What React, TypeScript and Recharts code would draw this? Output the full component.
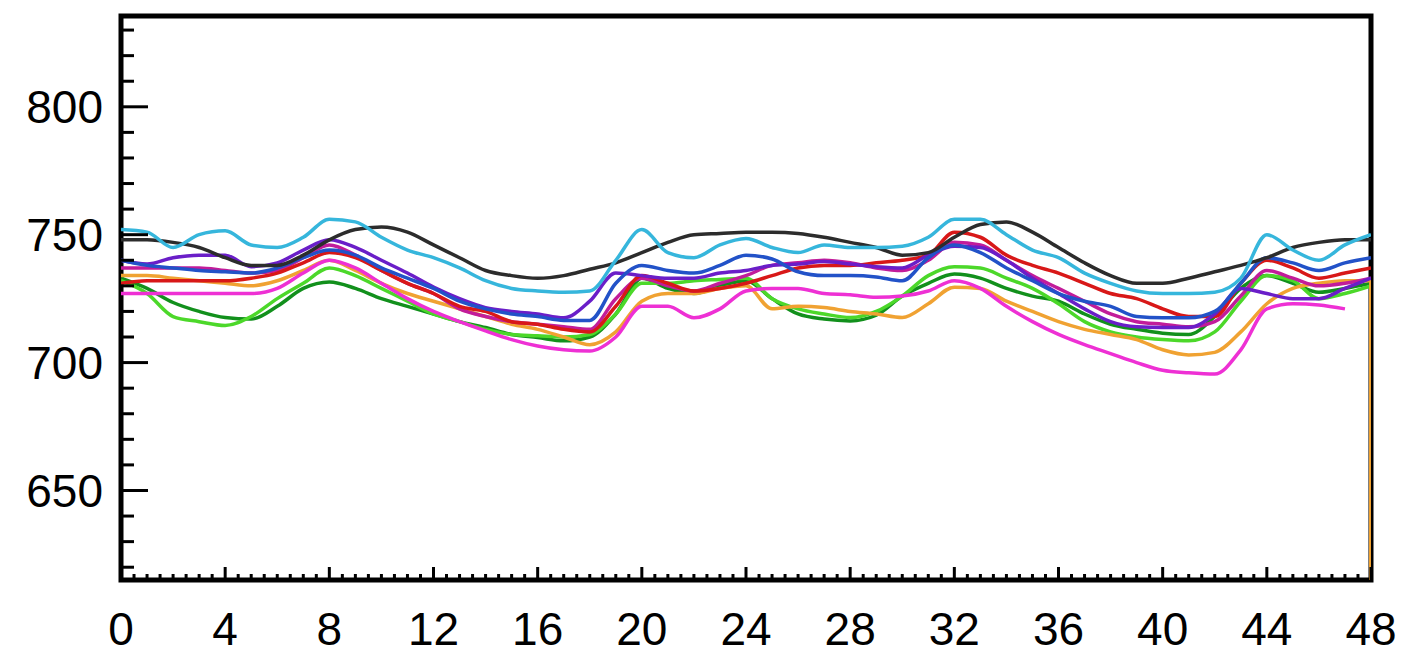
import React from "react";
import { LineChart, Line, XAxis, YAxis, ReferenceArea } from "recharts";

// hours along the x axis
const hours = [
  0, 1, 2, 3, 4, 5, 6, 7, 8, 9, 10, 11, 12, 13, 14, 15, 16, 17, 18, 19, 20, 21, 22, 23, 24,
  25, 26, 27, 28, 29, 30, 31, 32, 33, 34, 35, 36, 37, 38, 39, 40, 41, 42, 43, 44, 45, 46, 47, 48,
];

const cyan = [752, 751, 745, 750, 751.5, 746, 745, 749, 756, 755, 749, 744, 741, 737, 732, 729, 728, 727.5, 728, 740, 752, 743, 741, 746, 748.5, 745, 743, 746, 745, 745, 745.5, 749, 756, 756, 750, 744, 741, 735, 731, 728, 727, 727, 727.5, 733, 750, 744, 740, 746, 750];
const black = [748, 748, 747, 745, 741, 738, 738, 742, 748, 752, 753, 751, 746, 741, 736, 734, 733, 734, 736.5, 739, 743, 747, 750, 750.5, 751, 751, 750.5, 749, 747, 745, 742, 743, 749, 754, 755, 751, 745, 739, 734, 731, 731, 733, 735.5, 738, 741, 745, 747, 748, 748];
const blue = [740, 738, 737, 736, 735.5, 735, 737, 741, 744, 742, 737, 733, 729, 724, 721, 719, 718, 716.5, 716.5, 731, 738, 736, 735, 738, 742, 740.5, 735.5, 734, 734, 733.5, 732, 741, 746, 743, 737, 732, 727, 724, 722, 718, 717.5, 717.5, 720, 731, 741, 739, 736, 739, 741];
const violet = [740, 738.5, 741, 742, 742, 737.5, 739, 744, 748, 745, 740, 735, 729.5, 725, 721.5, 720, 719, 717.5, 724, 735, 734, 733, 733, 735, 736, 738, 738.5, 739.5, 738.5, 737.5, 737, 742, 745.5, 745, 740, 733, 727, 721, 716, 714, 713.7, 713.7, 719, 729, 727, 725, 725, 729, 733];
const red = [731, 732, 732, 732, 732, 733, 735, 739, 743, 741, 736, 731, 727, 722, 720, 716, 715, 713, 712, 722, 734, 731, 728, 729, 731, 734, 737, 738, 738, 739, 740, 742, 751, 749, 742, 738, 735, 731, 727, 725, 721, 718, 718, 731, 740, 737, 733, 735, 737];
const magenta = [737, 737, 737, 737, 736, 735, 736, 741, 746, 742, 736, 731, 727, 721, 718, 716, 715, 714, 713, 725, 733, 730, 728, 731, 734, 738, 739, 740, 739, 737, 736, 740, 747, 746, 740, 734, 729, 724, 719, 716, 715, 714, 716, 726, 736, 733, 730, 731, 733];
const orange = [734, 734, 733, 732, 731, 730, 732, 736, 740, 736, 731, 727, 724, 721, 718, 715, 713, 710, 707, 712, 724, 727, 727, 729, 730, 721, 722, 721.5, 720, 719, 717.6, 723, 729.5, 729, 724, 720, 716, 713, 711, 709, 705, 703, 704, 712, 723, 729, 731, 732, 732];
const orangeDrop = [732, 0];
const lightGreen = [732, 727, 718, 716, 714.5, 718, 725, 731, 737, 734, 729, 724, 719, 716, 713, 711, 710.5, 710, 711, 719, 731, 731, 732, 732.5, 733, 725, 721, 719, 717.6, 720, 726, 734, 737.5, 737, 733, 729, 723, 716, 712, 710, 709, 708.5, 712, 724, 734, 732, 725, 727, 730];
const darkGreen = [733, 729, 723.5, 720, 717.6, 717, 722, 729, 731.5, 729, 725, 722, 719, 716, 713.7, 711, 709.8, 708.5, 710, 719, 733, 729, 727, 730, 732, 725, 719, 717, 716.3, 718.5, 726, 731, 734.6, 733, 729, 726, 724, 719, 715, 713, 711.5, 711, 718, 729, 734, 731, 727.5, 729, 731];
const pink = [727, 727, 727, 727, 727, 727, 729, 735, 740, 737, 731, 725, 720, 716, 712.4, 709, 706.5, 705, 704.5, 710, 722, 722, 717.5, 721, 728, 729, 729, 727, 726.5, 725.5, 726, 728, 732, 729, 722, 716, 711, 707, 703.5, 700, 697, 696, 695.5, 705, 721, 723, 722.5, 721];

const xLabels = [0, 4, 8, 12, 16, 20, 24, 28, 32, 36, 40, 44, 48];
const yLabels = [650, 700, 750, 800];
const xTicks = Array.from({ length: 97 }, (_, i) => i * 0.5);
const yTicks = Array.from({ length: 22 }, (_, i) => 620 + i * 10);

const series = [
  { key: "darkGreen", color: "#12901c" },
  { key: "lightGreen", color: "#4cd82a" },
  { key: "orange", color: "#f0a232" },
  { key: "pink", color: "#ee30d4" },
  { key: "magenta", color: "#c21c9a" },
  { key: "red", color: "#d81818" },
  { key: "violet", color: "#6a1ec8" },
  { key: "blue", color: "#2252c8" },
  { key: "black", color: "#2c2c2c" },
  { key: "cyan", color: "#36b6dc" },
];

const rows = hours.map((x, i) => ({
  x,
  cyan: cyan[i],
  black: black[i],
  blue: blue[i],
  violet: violet[i],
  red: red[i],
  magenta: magenta[i],
  orange: orange[i],
  lightGreen: lightGreen[i],
  darkGreen: darkGreen[i],
  pink: pink[i] ?? null,
}));

const dropRows = orangeDrop.map((v) => ({ x: hours[hours.length - 1], v }));

const FONT = "'Liberation Sans', Arial, Helvetica, sans-serif";

const BottomTick = (props: any) => {
  const { x, y, payload } = props;
  const v = payload.value;
  const major = xLabels.includes(v);
  return (
    <g>
      <line x1={x} y1={y} x2={x} y2={y - (major ? 13 : 6)} stroke="#000" strokeWidth={3} />
      {major && (
        <text x={x} y={y + 65} textAnchor="middle" fontSize={46} fontFamily={FONT} fill="#000">
          {v}
        </text>
      )}
    </g>
  );
};

const TopTick = (props: any) => {
  const { x, y, payload } = props;
  const major = xLabels.includes(payload.value);
  return <line x1={x} y1={y} x2={x} y2={y + (major ? 13 : 6)} stroke="#000" strokeWidth={3} />;
};

const LeftTick = (props: any) => {
  const { x, y, payload } = props;
  const v = payload.value;
  const major = yLabels.includes(v);
  return (
    <g>
      <line x1={x} y1={y} x2={x + (major ? 27 : 13)} y2={y} stroke="#000" strokeWidth={3} />
      {major && (
        <text x={x - 18} y={y} dy="0.36em" textAnchor="end" fontSize={46} fontFamily={FONT} fill="#000">
          {v}
        </text>
      )}
    </g>
  );
};

const RightTick = (props: any) => {
  const { x, y, payload } = props;
  const major = yLabels.includes(payload.value);
  return <line x1={x} y1={y} x2={x - (major ? 27 : 13)} y2={y} stroke="#000" strokeWidth={3} />;
};

export default function App() {
  return (
    <div style={{ position: "absolute", left: 0, top: 0, background: "#fff" }}>
      <LineChart width={1404} height={655} data={rows} margin={{ top: 16, right: 33, left: 0, bottom: 0 }}>
        <XAxis
          dataKey="x"
          type="number"
          domain={[0, 48]}
          allowDataOverflow
          ticks={xTicks}
          interval={0}
          tick={BottomTick}
          tickLine={false}
          axisLine={false}
          tickSize={0}
          tickMargin={0}
          height={75}
        />
        <XAxis
          xAxisId="top"
          dataKey="x"
          type="number"
          orientation="top"
          domain={[0, 48]}
          allowDataOverflow
          ticks={xTicks}
          interval={0}
          tick={TopTick}
          tickLine={false}
          axisLine={false}
          tickSize={0}
          tickMargin={0}
          height={0}
        />
        <YAxis
          type="number"
          domain={[615, 835.5]}
          allowDataOverflow
          ticks={yTicks}
          interval={0}
          tick={LeftTick}
          tickLine={false}
          axisLine={false}
          tickSize={0}
          tickMargin={0}
          width={121}
        />
        <YAxis
          yAxisId="right"
          orientation="right"
          type="number"
          domain={[615, 835.5]}
          allowDataOverflow
          ticks={yTicks}
          interval={0}
          tick={RightTick}
          tickLine={false}
          axisLine={false}
          tickSize={0}
          tickMargin={0}
          width={0}
        />
        <ReferenceArea x1={0} x2={48} y1={615} y2={835.5} fill="none" stroke="#000" strokeWidth={5} />
        {series.map((s) => (
          <Line
            key={s.key}
            dataKey={s.key}
            type="monotone"
            stroke={s.color}
            strokeWidth={3.5}
            dot={false}
            activeDot={false}
            isAnimationActive={false}
          />
        ))}
        <Line
          data={dropRows}
          dataKey="v"
          type="linear"
          stroke="#f0a232"
          strokeWidth={4}
          dot={false}
          activeDot={false}
          isAnimationActive={false}
        />
      </LineChart>
    </div>
  );
}
